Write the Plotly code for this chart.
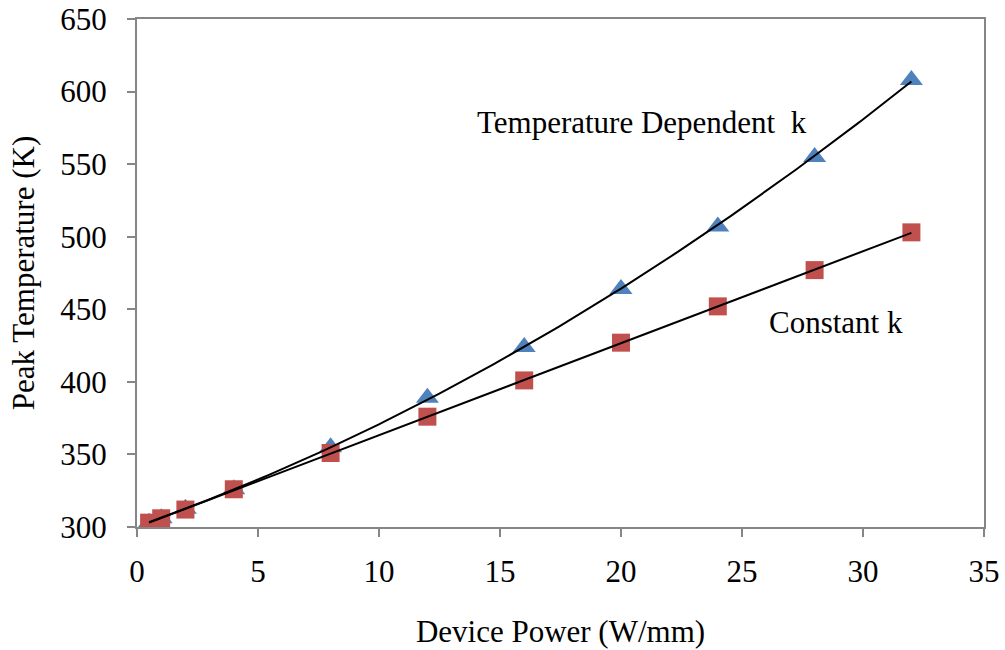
import numpy as np
import plotly.graph_objects as go

power = [0.5, 1, 2, 4, 8, 12, 16, 20, 24, 28, 32]
temp_dependent_k = [303, 306, 312.5, 326, 355, 389, 424, 464, 507, 555, 608]
constant_k = [303, 306, 312, 326, 351, 376, 401, 427, 452, 477, 503]

x_ticks = [0, 5, 10, 15, 20, 25, 30, 35]
y_ticks = [300, 350, 400, 450, 500, 550, 600, 650]

FONT = "Times New Roman, Liberation Serif, Tinos, serif"
AXIS_COLOR = "#868686"
FS = 31

xs = np.linspace(min(power), max(power), 200)
fit_td = np.polyval(np.polyfit(power, temp_dependent_k, 2), xs)
fit_c = np.polyval(np.polyfit(power, constant_k, 2), xs)

fig = go.Figure()
fig.add_trace(go.Scatter(x=power, y=temp_dependent_k, mode="markers",
                         marker=dict(symbol="triangle-up", size=20, color="#4F81BD"),
                         showlegend=False))
fig.add_trace(go.Scatter(x=power, y=constant_k, mode="markers",
                         marker=dict(symbol="square", size=18, color="#C0504D"),
                         showlegend=False))
fig.add_trace(go.Scatter(x=xs, y=fit_td, mode="lines",
                         line=dict(color="black", width=2), showlegend=False))
fig.add_trace(go.Scatter(x=xs, y=fit_c, mode="lines",
                         line=dict(color="black", width=2), showlegend=False))

fig.add_annotation(x=20.87, y=579, xref="x", yref="y", text="Temperature Dependent&nbsp;&nbsp;k",
                   showarrow=False, font=dict(family=FONT, size=FS, color="black"))
fig.add_annotation(x=28.88, y=441, xref="x", yref="y", text="Constant k",
                   showarrow=False, font=dict(family=FONT, size=FS, color="black"))

fig.update_layout(
    width=1005, height=650,
    margin=dict(l=137, r=21, t=19, b=123),
    paper_bgcolor="white", plot_bgcolor="white",
    font=dict(family=FONT, size=FS, color="black"),
)
fig.update_xaxes(range=[0, 35], tickvals=x_ticks, showgrid=False, zeroline=False,
                 showline=True, linecolor=AXIS_COLOR, linewidth=2, mirror=True,
                 ticks="outside", ticklen=8, tickcolor=AXIS_COLOR, tickwidth=2,
                 ticklabelstandoff=8, automargin=False,
                 tickfont=dict(family=FONT, size=FS),
                 title=dict(text="Device Power (W/mm)", font=dict(family=FONT, size=FS), standoff=32))
fig.update_yaxes(range=[300, 650], tickvals=y_ticks, showgrid=False, zeroline=False,
                 showline=True, linecolor=AXIS_COLOR, linewidth=2, mirror=True,
                 ticks="outside", ticklen=8, tickcolor=AXIS_COLOR, tickwidth=2,
                 ticklabelstandoff=14, automargin=False,
                 tickfont=dict(family=FONT, size=FS),
                 title=dict(text="Peak Temperature (K)", font=dict(family=FONT, size=FS), standoff=16))

fig.write_html("out.html")
